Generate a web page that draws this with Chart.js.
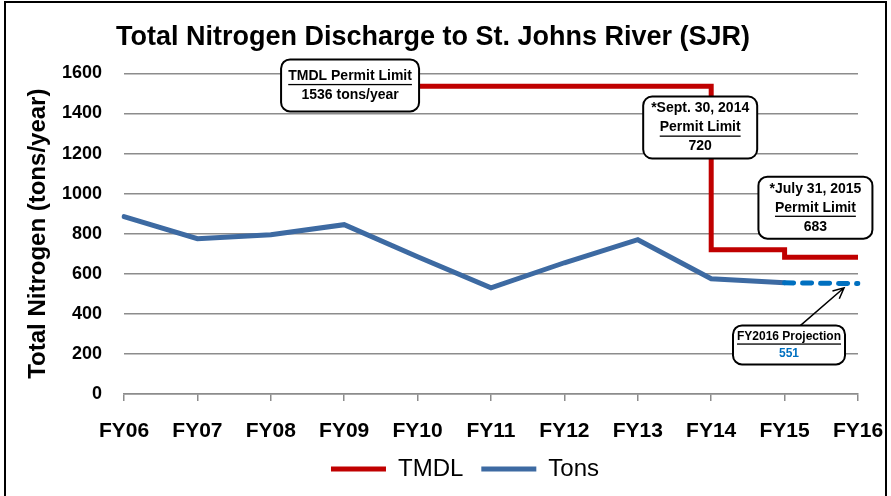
<!DOCTYPE html>
<html lang="en">
<head>
    <meta charset="UTF-8">
    <title>Total Nitrogen Discharge</title>
    <script src="https://cdn.jsdelivr.net/npm/chart.js"></script>
    <style>
        body { margin: 0; background: #fff; }
        #frame { position: absolute; left: 4px; top: 1px; width: 883px; height: 520px; border: 2px solid #000; box-sizing: border-box; }
        #wrap { position: absolute; left: 0; top: 0; width: 891px; height: 496px; }
    </style>
</head>
<body>
<div id="frame"></div>
<div id="wrap"><canvas id="nitrogenChart" width="891" height="496"></canvas></div>

<script>
    // chart data
    var years = ['FY06', 'FY07', 'FY08', 'FY09', 'FY10', 'FY11', 'FY12', 'FY13', 'FY14', 'FY15', 'FY16'];
    var tmdl = [null, null, null, 1536, 1536, 1536, 1536, 1536, 720, 683, 683];
    var tons = [885, 775, 795, 845, 685, 530, 655, 770, 575, 555, 551];

    // callout boxes: [x index, y value, lines]
    var callouts = [
        { x: 3.08, y: 1540, lines: [['TMDL Permit Limit', true], ['1536 tons/year', false]], w: 138, h: 52, size: 14 },
        { x: 7.85, y: 1330, lines: [['*Sept. 30, 2014', false], ['Permit Limit', true], ['720', false]], w: 114, h: 62, size: 14 },
        { x: 9.42, y: 930, lines: [['*July 31, 2015', false], ['Permit Limit', true], ['683', false]], w: 114, h: 62, size: 14 },
        { x: 9.06, y: 245, lines: [['FY2016 Projection', true], ['551', false, '#0070C0']], w: 112, h: 39, size: 12 }
    ];

    var FONT = "'Liberation Sans', Arial, sans-serif";

    function roundBox(ctx, x, y, w, h, r) {
        ctx.beginPath();
        ctx.moveTo(x + r, y);
        ctx.arcTo(x + w, y, x + w, y + h, r);
        ctx.arcTo(x + w, y + h, x, y + h, r);
        ctx.arcTo(x, y + h, x, y, r);
        ctx.arcTo(x, y, x + w, y, r);
        ctx.closePath();
    }

    var calloutPlugin = {
        id: 'callouts',
        afterLayout: function(chart) {
            // legend sits a bit right of centre in the original
            if (chart.legend) {
                chart.legend.left += 32;
                chart.legend.right += 32;
            }
        },
        afterDatasetsDraw: function(chart) {
            var ctx = chart.ctx;
            var xs = chart.scales.x, ys = chart.scales.y;
            ctx.save();

            // arrow to the projection point
            var ax = xs.getPixelForValue(9.21), ay = ys.getPixelForValue(340);
            var tx = xs.getPixelForValue(9.81), ty = ys.getPixelForValue(530);
            ctx.strokeStyle = '#000';
            ctx.lineWidth = 1.5;
            ctx.beginPath();
            ctx.moveTo(ax, ay);
            ctx.lineTo(tx, ty);
            var ang = Math.atan2(ty - ay, tx - ax);
            ctx.moveTo(tx - 12 * Math.cos(ang - 0.45), ty - 12 * Math.sin(ang - 0.45));
            ctx.lineTo(tx, ty);
            ctx.lineTo(tx - 12 * Math.cos(ang + 0.45), ty - 12 * Math.sin(ang + 0.45));
            ctx.stroke();

            callouts.forEach(function(c) {
                var cx = xs.getPixelForValue(c.x);
                var cy = ys.getPixelForValue(c.y);
                var left = cx - c.w / 2, top = cy - c.h / 2;
                roundBox(ctx, left, top, c.w, c.h, 9);
                ctx.fillStyle = '#fff';
                ctx.fill();
                ctx.lineWidth = 2;
                ctx.strokeStyle = '#000';
                ctx.stroke();

                var lh = c.size + 5;
                var y0 = cy - (c.lines.length - 1) * lh / 2;
                ctx.font = 'bold ' + c.size + 'px ' + FONT;
                ctx.textAlign = 'center';
                ctx.textBaseline = 'middle';
                c.lines.forEach(function(l, i) {
                    var ly = y0 + i * lh;
                    ctx.fillStyle = l[2] || '#000';
                    ctx.fillText(l[0], cx, ly);
                    if (l[1]) {
                        var tw = ctx.measureText(l[0]).width;
                        ctx.fillRect(cx - tw / 2, ly + c.size / 2 + 1, tw, 1.3);
                    }
                });
            });
            ctx.restore();
        }
    };

    var ctx = document.getElementById('nitrogenChart').getContext('2d');

    new Chart(ctx, {
        type: 'line',
        data: {
            labels: years,
            datasets: [{
                label: 'TMDL',
                data: tmdl,
                borderColor: '#C00000',
                backgroundColor: '#C00000',
                borderWidth: 5,
                stepped: true,
                pointRadius: 0,
                pointStyle: 'line'
            }, {
                label: 'Tons',
                data: tons,
                borderColor: '#3D6AA2',
                backgroundColor: '#3D6AA2',
                borderWidth: 5,
                borderCapStyle: 'round',
                pointRadius: 0,
                pointStyle: 'line',
                segment: {
                    borderColor: function(c) { return c.p1DataIndex === 10 ? '#0070C0' : undefined; },
                    borderDash: function(c) { return c.p1DataIndex === 10 ? [9, 9] : undefined; }
                }
            }]
        },
        options: {
            responsive: false,
            animation: false,
            layout: { padding: { left: 8, right: 33, top: 0, bottom: 5 } },
            plugins: {
                title: {
                    display: true,
                    text: 'Total Nitrogen Discharge to St. Johns River (SJR)',
                    color: '#000',
                    font: { family: FONT, size: 27, weight: 'bold' },
                    padding: { top: 21, bottom: 20 }
                },
                legend: {
                    position: 'bottom',
                    labels: {
                        color: '#000',
                        font: { family: FONT, size: 24 },
                        usePointStyle: true,
                        pointStyleWidth: 55,
                        boxHeight: 5,
                        padding: 18
                    }
                },
                tooltip: { enabled: false }
            },
            scales: {
                x: {
                    offset: false,
                    grid: { drawOnChartArea: false, drawTicks: true, tickLength: 7, color: '#8c8c8c', lineWidth: 1.5 },
                    border: { display: true, color: '#8c8c8c', width: 1.5 },
                    ticks: { color: '#000', font: { family: FONT, size: 21, weight: 'bold' }, padding: 18, maxRotation: 0 },
                    afterFit: function(s) { s.height = 45; s.paddingLeft = 0; s.paddingRight = 0; }
                },
                y: {
                    min: 0,
                    max: 1600,
                    ticks: {
                        stepSize: 200,
                        color: '#000',
                        font: { family: FONT, size: 18, weight: 'bold' },
                        padding: 22,
                        callback: function(v) { return String(v); }
                    },
                    grid: { drawTicks: false, color: '#8c8c8c', lineWidth: 1.5 },
                    border: { display: false },
                    title: {
                        display: true,
                        text: 'Total Nitrogen (tons/year)',
                        color: '#000',
                        font: { family: FONT, size: 24, weight: 'bold' },
                        padding: { top: 16, bottom: 0 }
                    },
                    afterFit: function(s) { s.width = 116; }
                }
            }
        },
        plugins: [calloutPlugin]
    });
</script>
</body>
</html>
